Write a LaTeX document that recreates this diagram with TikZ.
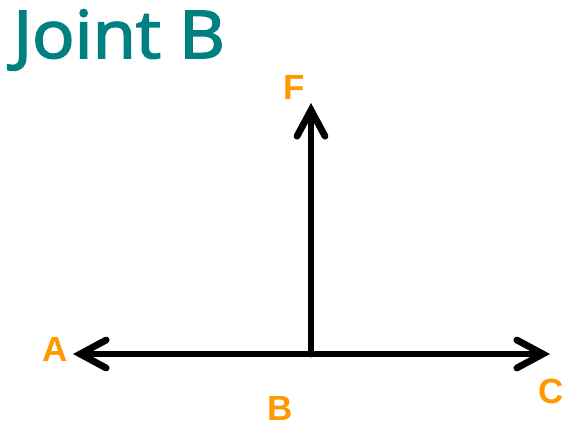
\documentclass[tikz,border=0pt]{standalone}
\usepackage{fontspec}
\setmainfont{Liberation Sans}
\newfontfamily\titlefont{Open Sans}[FakeBold=2.5]
\usetikzlibrary{arrows.meta}
\definecolor{titleteal}{RGB}{0,128,128}
\definecolor{labelorange}{RGB}{255,153,0}
\tikzset{
  force/.style={line width=6.8pt, line cap=round,
    -{Straight Barb[length=26pt,width=28pt,line cap=round,line join=miter]}},
  lbl/.style={text=labelorange, font=\fontsize{35}{35}\selectfont\bfseries, inner sep=0pt},
  ttl/.style={text=titleteal, font=\titlefont\fontsize{66}{66}\selectfont, inner sep=0pt, anchor=base west}
}
\begin{document}
\begin{tikzpicture}[x=1pt,y=-1pt]
\useasboundingbox (0,0) rectangle (564,426);
\node[ttl] (title) at (13,58) {\scalebox{1.07}[1]{Joint B}};
\coordinate (B) at (311,354);
\coordinate (Atip) at (73,354);
\coordinate (Ctip) at (550,354);
\coordinate (Ftip) at (311,103);
\draw[force] (B) -- (Atip);
\draw[force] (B) -- (Ctip);
\draw[force] (B) -- (Ftip);
\node[lbl] (F) at (294,87) {F};
\node[lbl] (A) at (55,349) {A};
\node[lbl] (C) at (551,391) {C};
\node[lbl] (Blbl) at (280,408) {B};
\end{tikzpicture}
\end{document}
